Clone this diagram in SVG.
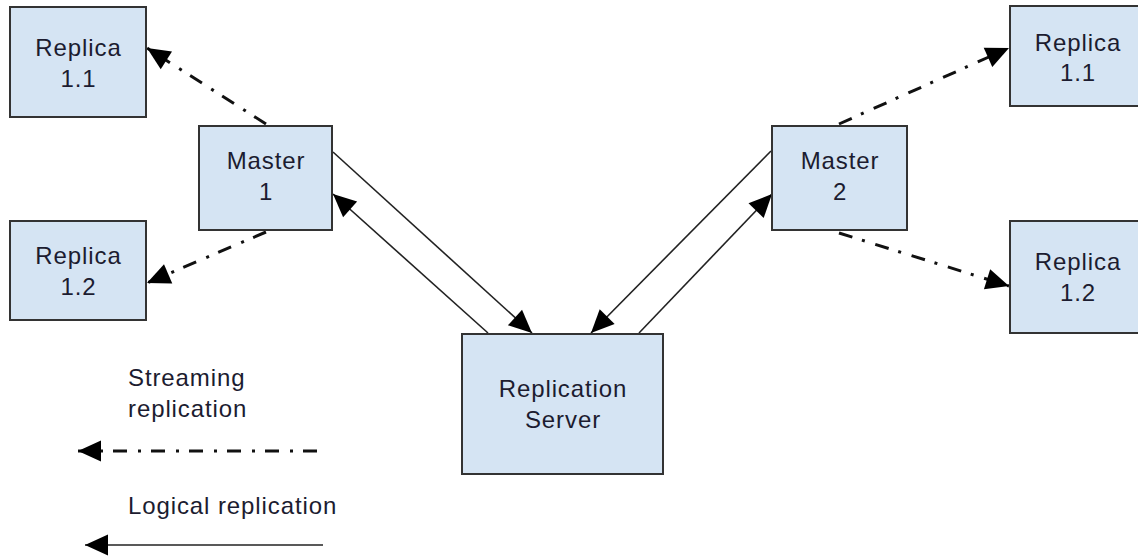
<svg xmlns="http://www.w3.org/2000/svg" width="1138" height="560" viewBox="0 0 1138 560">
<style>
.box{fill:#d5e4f3;stroke:#333;stroke-width:2}
.t{font-family:"Liberation Sans",Arial,sans-serif;font-size:24px;letter-spacing:0.9px;fill:#1c1c30;text-anchor:middle}
.lt{font-family:"Liberation Sans",Arial,sans-serif;font-size:24px;letter-spacing:0.9px;fill:#1c1c30}
.solid{stroke:#222;stroke-width:1.6;fill:none}
.dd{stroke:#111;stroke-width:3;fill:none;stroke-dasharray:14 10 3 11}
</style>
<defs>
<marker id="ah" markerUnits="userSpaceOnUse" markerWidth="26" markerHeight="24" refX="23" refY="10.5" orient="auto" overflow="visible">
<path d="M0,0 L23,10.5 L0,21 Z" fill="#000"/>
</marker>
</defs>
<rect width="1138" height="560" fill="#fff"/>
<g id="connectors">
<line class="solid" x1="333" y1="152" x2="532" y2="333" marker-end="url(#ah)"/>
<line class="solid" x1="488" y1="333" x2="333" y2="194" marker-end="url(#ah)"/>
<line class="solid" x1="771" y1="151" x2="591" y2="333" marker-end="url(#ah)"/>
<line class="solid" x1="639" y1="333" x2="772" y2="194" marker-end="url(#ah)"/>
<line class="dd" x1="266" y1="124" x2="147" y2="48" marker-end="url(#ah)"/>
<line class="dd" x1="266" y1="232" x2="147" y2="283" marker-end="url(#ah)"/>
<line class="dd" x1="839" y1="124" x2="1009" y2="48" marker-end="url(#ah)"/>
<line class="dd" x1="839" y1="233" x2="1009" y2="286" marker-end="url(#ah)"/>
<line class="dd" x1="317" y1="451" x2="78" y2="451" marker-end="url(#ah)"/>
<line class="solid" x1="323" y1="545" x2="85" y2="545" marker-end="url(#ah)"/>
</g>
<g id="replica11-left"><rect class="box" x="10" y="7" width="136" height="110"/><text class="t" x="78.5" y="56">Replica</text><text class="t" x="78.5" y="87">1.1</text></g>
<g id="replica12-left"><rect class="box" x="10" y="221" width="136" height="99"/><text class="t" x="78.5" y="264">Replica</text><text class="t" x="78.5" y="295">1.2</text></g>
<g id="master1"><rect class="box" x="199" y="126" width="133" height="104"/><text class="t" x="266" y="169">Master</text><text class="t" x="266" y="200">1</text></g>
<g id="master2"><rect class="box" x="772" y="126" width="135" height="104"/><text class="t" x="840" y="169">Master</text><text class="t" x="840" y="200">2</text></g>
<g id="replica11-right"><rect class="box" x="1010" y="6" width="135" height="100"/><text class="t" x="1078" y="51">Replica</text><text class="t" x="1078" y="81">1.1</text></g>
<g id="replica12-right"><rect class="box" x="1010" y="221" width="135" height="112"/><text class="t" x="1078" y="270">Replica</text><text class="t" x="1078" y="301">1.2</text></g>
<g id="replication-server"><rect class="box" x="462" y="334" width="201" height="140"/><text class="t" x="563" y="397">Replication</text><text class="t" x="563" y="428">Server</text></g>
<g id="legend">
<text class="lt" x="128" y="386">Streaming</text>
<text class="lt" x="128" y="417">replication</text>
<text class="lt" x="128" y="514">Logical replication</text>
</g>
</svg>
